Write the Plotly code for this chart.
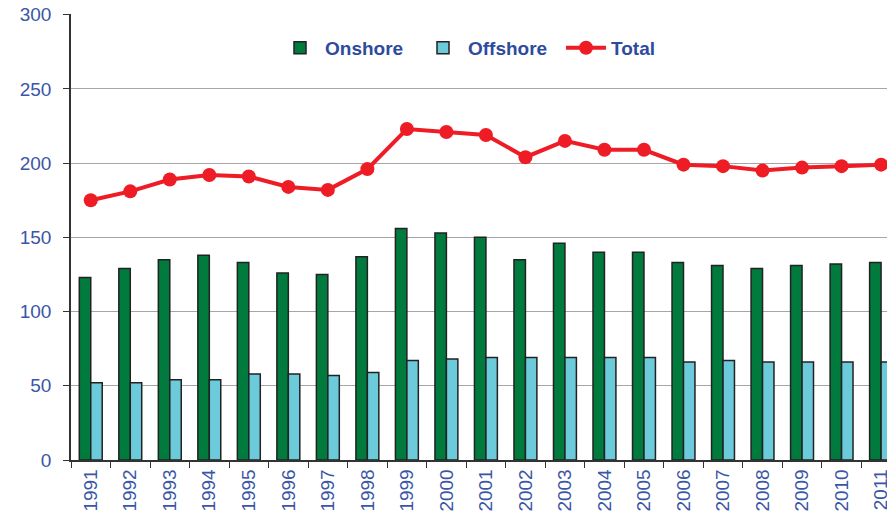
import plotly.graph_objects as go

years = [str(y) for y in range(1991, 2012)]
onshore = [123, 129, 135, 138, 133, 126, 125, 137, 156, 153, 150, 135, 146, 140, 140, 133, 131, 129, 131, 132, 133]
offshore = [52, 52, 54, 54, 58, 58, 57, 59, 67, 68, 69, 69, 69, 69, 69, 66, 67, 66, 66, 66, 66]
total = [175, 181, 189, 192, 191, 184, 182, 196, 223, 221, 219, 204, 215, 209, 209, 199, 198, 195, 197, 198, 199]

FONT = "Arial, 'Liberation Sans', sans-serif"
BLUE = "#3A56A6"

fig = go.Figure()
fig.add_trace(go.Bar(x=years, y=onshore, name="Onshore",
                     marker=dict(color="#007A3D", line=dict(color="#222222", width=1.5))))
fig.add_trace(go.Bar(x=years, y=offshore, name="Offshore",
                     marker=dict(color="#6BCBDB", line=dict(color="#222222", width=1.5))))
fig.add_trace(go.Scatter(x=years, y=total, name="Total", mode="lines+markers",
                         line=dict(color="#EE1C25", width=4),
                         marker=dict(color="#EE1C25", size=14)))

fig.update_layout(
    width=887, height=515,
    margin=dict(l=71, r=0, t=14, b=55),
    paper_bgcolor="white", plot_bgcolor="white",
    barmode="group", bargap=0.42, bargroupgap=0,
    font=dict(family=FONT, color=BLUE),
    legend=dict(orientation="h", x=0.25, y=0.924, xanchor="left", yanchor="middle",
                font=dict(family=FONT, size=19, color="#2E4A9E", weight="bold"),
                bgcolor="rgba(0,0,0,0)", itemwidth=40, entrywidth=88,
                entrywidthmode="pixels", tracegroupgap=0, traceorder="normal"),
    showlegend=True,
)
fig.update_xaxes(
    type="category", range=[-0.5, 20.15], automargin=False,
    showline=True, linecolor="#333333", linewidth=1.5,
    ticks="outside", ticklen=6, tickcolor="#333333", tickwidth=1.2,
    tickson="boundaries", tickangle=-90,
    tickfont=dict(family=FONT, size=19, color=BLUE),
    showgrid=False, fixedrange=True,
)
fig.update_yaxes(
    range=[0, 300.5], tickvals=[0, 50, 100, 150, 200, 250, 300], automargin=False,
    showline=True, linecolor="#333333", linewidth=1.5,
    ticks="outside", ticklen=6, tickcolor="#333333", tickwidth=1.2,
    showgrid=True, gridcolor="#A6A6A6", gridwidth=1,
    zeroline=False, ticklabeloverflow="allow",
    tickfont=dict(family=FONT, size=19, color=BLUE),
    ticklabelstandoff=8,
)

fig.write_html("out.html", config={"displayModeBar": False},
               post_script="document.body.style.margin='0';document.body.style.overflow='hidden';")
